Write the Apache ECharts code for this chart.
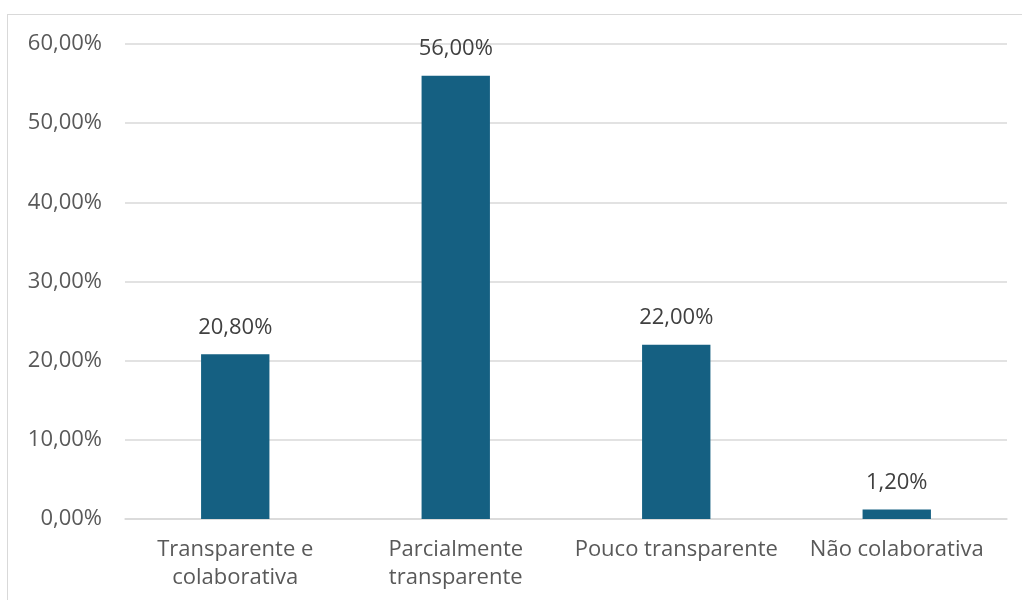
<!DOCTYPE html>
<html><head><meta charset="utf-8">
<script src="https://cdn.jsdelivr.net/npm/echarts@6/dist/echarts.min.js"></script>
<style>
html,body{margin:0;padding:0;background:#fff;}
#frame{position:absolute;left:7px;top:14px;width:1020px;height:600px;border:1.5px solid #d9d9d9;box-sizing:border-box;}
#chart{position:absolute;left:0;top:0;width:1022px;height:600px;}
</style></head>
<body>
<div id="frame"></div>
<div id="chart"></div>
<script>
const categories = ["Transparente e\ncolaborativa", "Parcialmente\ntransparente", "Pouco transparente", "Não colaborativa"];
const values = [20.8, 56.0, 22.0, 1.2];
const yTicks = [0, 10, 20, 30, 40, 50, 60];

const fmt = v => v.toFixed(2).replace('.', ',') + '%';
const chart = echarts.init(document.getElementById('chart'));
chart.setOption({
  animation: false,
  textStyle: { fontFamily: 'Open Sans, Liberation Sans, sans-serif' },
  grid: { left: 125, right: 15, top: 44, bottom: 81, containLabel: false },
  xAxis: {
    type: 'category', data: categories,
    axisLine: { lineStyle: { color: '#d9d9d9', width: 1.5 } },
    axisTick: { show: false },
    axisLabel: { color: '#595959', fontSize: 22, lineHeight: 28, margin: 17, interval: 0 }
  },
  yAxis: {
    type: 'value', min: yTicks[0], max: yTicks[yTicks.length - 1], interval: 10,
    axisLine: { show: false }, axisTick: { show: false },
    splitLine: { lineStyle: { color: '#d9d9d9', width: 1.5 } },
    axisLabel: { color: '#595959', fontSize: 22, margin: 23, formatter: v => fmt(v) }
  },
  series: [{
    type: 'bar', data: values, barWidth: '31%',
    itemStyle: { color: '#156082' },
    label: { show: true, position: 'top', distance: 16, color: '#404040', fontSize: 22, formatter: p => fmt(p.value) }
  }]
});
</script>
</body></html>
